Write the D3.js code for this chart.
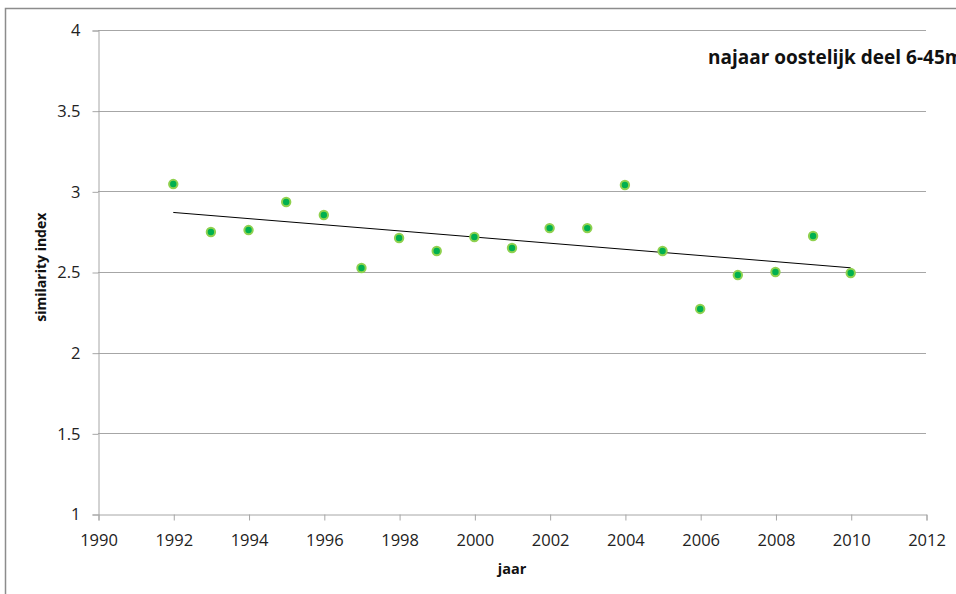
<!DOCTYPE html>
<html><head><meta charset="utf-8">
<script src="https://cdn.jsdelivr.net/npm/d3@7"></script>
<style>body{margin:0;background:#fff}svg{display:block}</style>
</head><body>
<script>
const years = [1992,1993,1994,1995,1996,1997,1998,1999,2000,2001,2002,2003,2004,2005,2006,2007,2008,2009,2010];
const values = [3.045,2.748,2.760,2.934,2.853,2.525,2.711,2.630,2.717,2.649,2.772,2.772,3.039,2.630,2.271,2.481,2.500,2.723,2.494];
const xTicks = [1990,1992,1994,1996,1998,2000,2002,2004,2006,2008,2010,2012];
const yTicks = [1,1.5,2,2.5,3,3.5,4];
const title = "najaar oostelijk deel 6-45m";
const xLabel = "jaar";
const yLabel = "similarity index";

const W = 956, H = 594;
const font = "'Open Sans', sans-serif";
const svg = d3.select("body").append("svg").attr("width", W).attr("height", H);
svg.append("rect").attr("x",5.5).attr("y",8.5).attr("width",1000).attr("height",700)
  .attr("fill","#fff").attr("stroke","#8c8c8c").attr("stroke-width",1.5);

const x = d3.scaleLinear().domain([1990,2012]).range([98,926]);
const y = d3.scaleLinear().domain([1,4]).range([514,30]);

// gridlines
svg.append("g").selectAll("line").data(yTicks.filter(d=>d>1)).join("line")
  .attr("x1",x(1990)).attr("x2",x(2012))
  .attr("y1",d=>Math.round(y(d))+0.5).attr("y2",d=>Math.round(y(d))+0.5)
  .attr("stroke","#a6a6a6").attr("stroke-width",1);

// y axis
const yAxis = svg.append("g").attr("transform",`translate(${x(1990)+0.5},0.5)`)
  .call(d3.axisLeft(y).tickValues(yTicks).tickSize(6).tickPadding(12).tickFormat(d=>d3.format("")(d)));
yAxis.select(".domain").attr("stroke","#a6a6a6");
yAxis.selectAll(".tick line").attr("stroke","#a6a6a6");
yAxis.selectAll("text").attr("font-family",font).attr("font-size",16.5).attr("fill","#222");

// x axis
const xAxis = svg.append("g").attr("transform",`translate(0.5,${y(1)+0.5})`)
  .call(d3.axisBottom(x).tickValues(xTicks).tickSize(6).tickPadding(14).tickFormat(d3.format("d")));
xAxis.select(".domain").attr("stroke","#a6a6a6");
xAxis.selectAll(".tick line").attr("stroke","#a6a6a6");
xAxis.selectAll("text").attr("font-family",font).attr("font-size",16.5).attr("fill","#222");

// regression trendline
const mx = d3.mean(years), my = d3.mean(values);
const slope = d3.sum(years.map((xv,i)=>(xv-mx)*(values[i]-my))) / d3.sum(years.map(xv=>(xv-mx)**2));
const icpt = my - slope*mx;
const x0 = d3.min(years), x1 = d3.max(years);
svg.append("line").attr("x1",x(x0)).attr("y1",y(icpt+slope*x0)).attr("x2",x(x1)).attr("y2",y(icpt+slope*x1))
  .attr("stroke","#000").attr("stroke-width",1);

// points
svg.append("g").selectAll("circle").data(years).join("circle")
  .attr("cx",d=>x(d)).attr("cy",(d,i)=>y(values[i])).attr("r",4.2)
  .attr("fill","#00b04f").attr("stroke","#8fd14f").attr("stroke-width",2);

// labels
svg.append("text").attr("x",708).attr("y",64).attr("font-family",font).attr("font-weight","bold")
  .attr("font-size",19).attr("fill","#111").text(title);
svg.append("text").attr("x",x(2001)).attr("y",574).attr("text-anchor","middle").attr("font-family",font)
  .attr("font-weight","bold").attr("font-size",14.5).attr("fill","#111").text(xLabel);
svg.append("text").attr("transform",`translate(46,${y(2.53)}) rotate(-90)`).attr("text-anchor","middle")
  .attr("font-family",font).attr("font-weight","bold").attr("font-size",14).attr("fill","#111").text(yLabel);
</script>
</body></html>
